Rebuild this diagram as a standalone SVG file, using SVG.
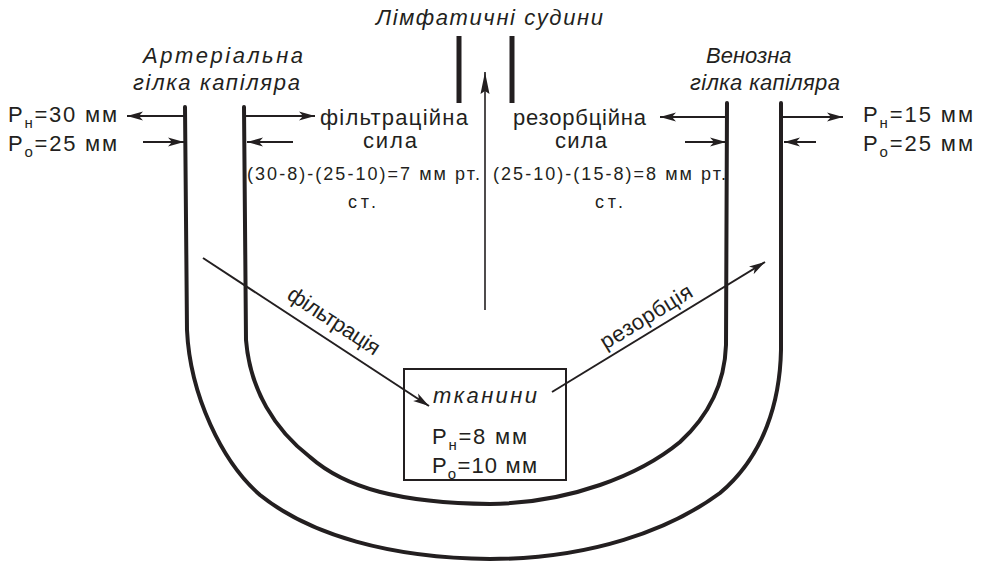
<svg xmlns="http://www.w3.org/2000/svg" width="984" height="564" viewBox="0 0 984 564">
<style>
text{font-family:"Liberation Sans",Arial,sans-serif;fill:#231f20;font-size:22px}
.it{font-style:italic;font-size:22px}
.sm{font-size:18px}
.sub{font-size:15px}
.vessel{fill:none;stroke:#231f20;stroke-width:4;stroke-linecap:round;stroke-linejoin:round}
.arr{fill:none;stroke:#231f20;stroke-width:2}
.thin{fill:none;stroke:#231f20;stroke-width:1.6}
.lym{stroke:#231f20;stroke-width:5}
.box{fill:none;stroke:#231f20;stroke-width:2}
</style>
<defs>
<marker id="ah" markerUnits="userSpaceOnUse" markerWidth="17" markerHeight="10" refX="16" refY="5" orient="auto" viewBox="0 0 17 10">
<path d="M0,0.5 L16,5 L0,9.5 L4,5 Z" fill="#231f20"/>
</marker>
<marker id="ahl" markerUnits="userSpaceOnUse" markerWidth="23" markerHeight="10" refX="22" refY="5" orient="auto" viewBox="0 0 23 10">
<path d="M0,0.5 L22,5 L0,9.5 L3,5 Z" fill="#231f20"/>
</marker>
</defs>
<rect width="984" height="564" fill="#fff"/>

<g id="capillary">
<path class="vessel" d="M185,107 L187,330 C190,395 222,462 260,495 C310,535 390,558 490,559 C590,559 670,530 720,493 C765,455 780,400 781,350 L781,103"/>
<path class="vessel" d="M244,107 L246,340 C250,390 275,430 310,457 C345,488 400,503 490,504 C570,503 640,475 680,442 C715,410 725,375 726,345 L727,103"/>
</g>

<g id="arterial-branch">
<text class="it" x="143" y="63" textLength="160" lengthAdjust="spacing">Артеріальна</text>
<text class="it" x="133" y="90" textLength="167" lengthAdjust="spacing">гілка капіляра</text>
<text x="8" y="122" textLength="109" lengthAdjust="spacing">P<tspan class="sub" dy="6">н</tspan><tspan dy="-6">=30 мм</tspan></text>
<text x="8" y="151" textLength="109" lengthAdjust="spacing">P<tspan class="sub" dy="6">о</tspan><tspan dy="-6">=25 мм</tspan></text>
<text x="320" y="125" textLength="148" lengthAdjust="spacing">фільтраційна</text>
<text x="363" y="148" textLength="54" lengthAdjust="spacing">сила</text>
<text class="sm" x="247" y="180" textLength="233" lengthAdjust="spacing">(30-8)-(25-10)=7 мм рт.</text>
<text class="sm" x="348" y="208" textLength="28" lengthAdjust="spacing">ст.</text>
</g>

<g id="venous-branch">
<text class="it" x="706" y="63">Венозна</text>
<text class="it" x="690" y="90" textLength="150" lengthAdjust="spacing">гілка капіляра</text>
<text x="863" y="122" textLength="110" lengthAdjust="spacing">P<tspan class="sub" dy="6">н</tspan><tspan dy="-6">=15 мм</tspan></text>
<text x="863" y="151" textLength="110" lengthAdjust="spacing">P<tspan class="sub" dy="6">о</tspan><tspan dy="-6">=25 мм</tspan></text>
<text x="513" y="125" textLength="133" lengthAdjust="spacing">резорбційна</text>
<text x="555" y="148" textLength="52" lengthAdjust="spacing">сила</text>
<text class="sm" x="493" y="180" textLength="233" lengthAdjust="spacing">(25-10)-(15-8)=8 мм рт.</text>
<text class="sm" x="595" y="208" textLength="28" lengthAdjust="spacing">ст.</text>
</g>

<g id="lymph-vessels">
<text class="it" x="376" y="25" textLength="227" lengthAdjust="spacing">Лімфатичні судини</text>
<line class="lym" x1="459" y1="36" x2="459" y2="103"/>
<line class="lym" x1="512" y1="36" x2="512" y2="103"/>
</g>

<g id="tissue">
<rect class="box" x="404" y="369" width="162" height="111"/>
<text class="it" x="433" y="403" textLength="104" lengthAdjust="spacing">тканини</text>
<text x="432" y="444" textLength="95" lengthAdjust="spacing">P<tspan class="sub" dy="6">н</tspan><tspan dy="-6">=8 мм</tspan></text>
<text x="432" y="473" textLength="105" lengthAdjust="spacing">P<tspan class="sub" dy="6">о</tspan><tspan dy="-6">=10 мм</tspan></text>
</g>

<g id="connectors">
<line class="arr" x1="185" y1="116" x2="127" y2="116" marker-end="url(#ah)"/>
<line class="arr" x1="143" y1="142" x2="184" y2="142" marker-end="url(#ah)"/>
<line class="arr" x1="244" y1="116" x2="315" y2="116" marker-end="url(#ah)"/>
<line class="arr" x1="293" y1="142" x2="247" y2="142" marker-end="url(#ah)"/>
<line class="arr" x1="728" y1="117" x2="660" y2="117" marker-end="url(#ah)"/>
<line class="arr" x1="685" y1="142" x2="726" y2="142" marker-end="url(#ah)"/>
<line class="arr" x1="781" y1="117" x2="843" y2="117" marker-end="url(#ah)"/>
<line class="arr" x1="816" y1="142" x2="784" y2="142" marker-end="url(#ah)"/>
<line class="thin" x1="485" y1="310" x2="485" y2="72" marker-end="url(#ahl)"/>
<line class="arr" x1="203" y1="258" x2="429" y2="406" marker-end="url(#ah)"/>
<line class="arr" x1="552" y1="392" x2="765" y2="262" marker-end="url(#ah)"/>
<text transform="translate(330,327) rotate(33.2)" text-anchor="middle" textLength="106" lengthAdjust="spacing">фільтрація</text>
<text transform="translate(650,323) rotate(-31.4)" text-anchor="middle" textLength="104" lengthAdjust="spacing">резорбція</text>
</g>
</svg>
